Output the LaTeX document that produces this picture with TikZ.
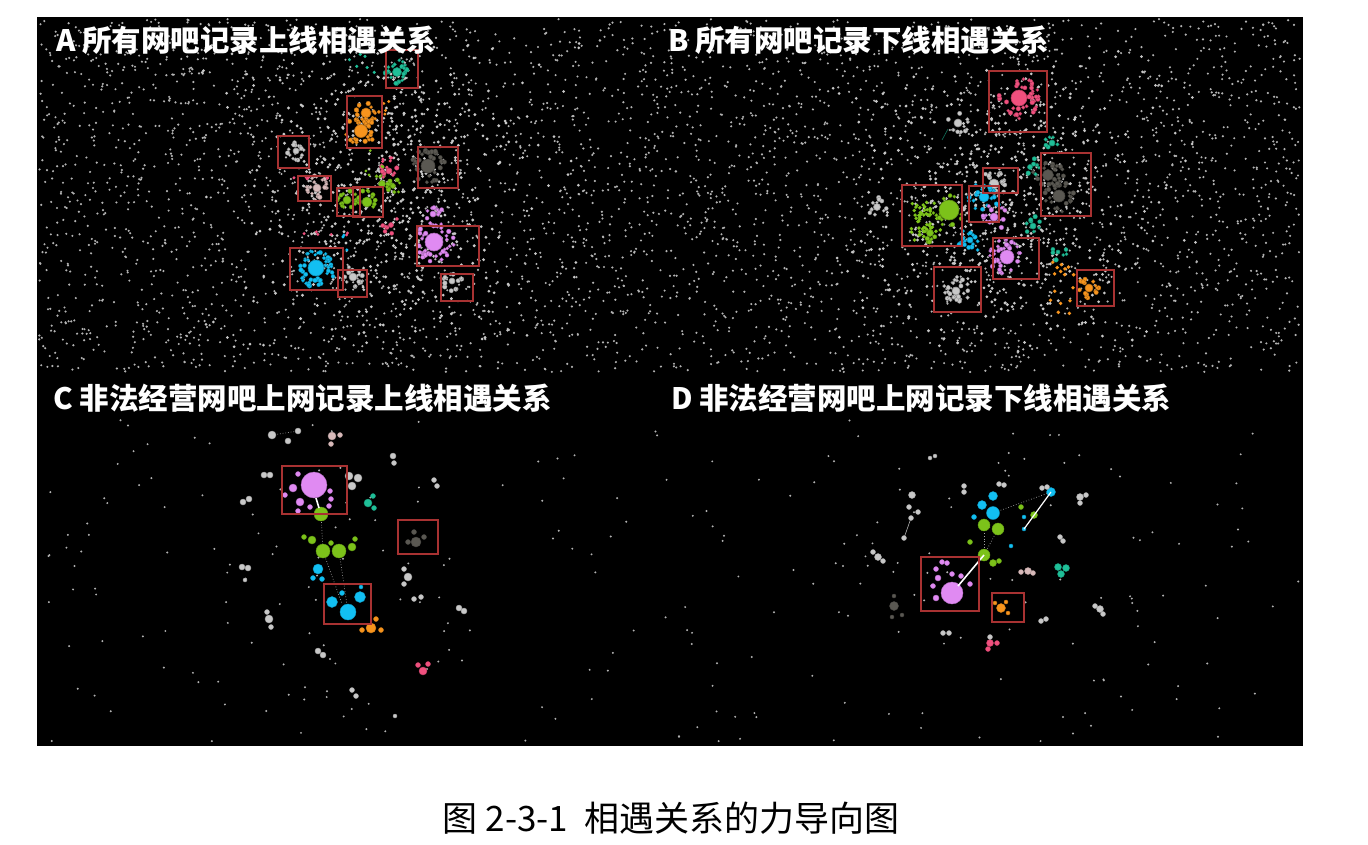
\documentclass[tikz,border=0pt]{standalone}
\usepackage{fontspec}
\newfontfamily\cjk{Noto Sans CJK SC}
\definecolor{boxred}{HTML}{A83232}
\definecolor{cteal}{HTML}{1FBF98}
\definecolor{corange}{HTML}{F7941D}
\definecolor{clgrey}{HTML}{C8C8C8}
\definecolor{cdgrey}{HTML}{5A5852}
\definecolor{cpgrey}{HTML}{D8BABA}
\definecolor{cgreen}{HTML}{7CC21A}
\definecolor{cviolet}{HTML}{E08AF2}
\definecolor{ccyan}{HTML}{12BFF2}
\definecolor{cpink}{HTML}{F0507E}
\definecolor{cdot}{HTML}{B2B2B2}
\tikzset{
  redbox/.style={draw=boxred, line width=1.3pt},
  paneltitle/.style={text=white, anchor=west, inner sep=0pt, font=\cjk\bfseries\fontsize{29.5}{32}\selectfont},
  captiontext/.style={text=black, inner sep=0pt, font=\cjk\fontsize{35}{40}\selectfont},
  linkdot/.style={draw=gray!70, dotted, line width=0.7pt},
  linkwhite/.style={draw=white, line width=1.6pt},
}
\newcommand\clusterhub[6]{%
  \foreach \k in {1,...,#5}{%
    \pgfmathsetmacro\aa{360*rnd}%
    \pgfmathsetmacro\dd{#3+2+#6*rnd}%
    \pgfmathsetmacro\px{#1+\dd*cos(\aa)}%
    \pgfmathsetmacro\py{#2+\dd*sin(\aa)}%
    \pgfmathsetmacro\rr{1.6+0.8*rnd}%
    \fill[#4, draw=#4!70!black, line width=0.3pt] (\px,\py) circle[radius=\rr pt];
  }%
  \fill[#4, draw=#4!75!black, line width=0.6pt] (#1,#2) circle[radius=#3pt];
}
\newcommand\scatterdots[7]{% n x0 y0 w h radius colour
  \foreach \k in {1,...,#1}{%
    \pgfmathsetmacro\px{#2+#4*rnd}%
    \pgfmathsetmacro\py{#3+#5*rnd}%
    \fill[#7] (\px,\py) circle[radius=#6pt];
  }%
}
\newcommand\centerdots[7]{% n cx cy sx sy radius colour
  \foreach \k in {1,...,#1}{%
    \pgfmathsetmacro\px{#2+#4*(rand+rand)/2}%
    \pgfmathsetmacro\py{#3+#5*(rand+rand)/2}%
    \fill[#7] (\px,\py) circle[radius=#6pt];
  }%
}
\begin{document}
\begin{tikzpicture}[x=1pt,y=-1pt]
\pgfmathsetseed{2317}
\useasboundingbox (0,0) rectangle (1368,844);
\fill[white] (0,0) rectangle (1368,844);
\fill[black] (37,17) rectangle (1303,746);

% ---------- top panels background dots ----------
\scatterdots{4200}{39}{19}{1262}{353}{1.2}{cdot}
\centerdots{450}{385}{185}{130}{160}{1.6}{clgrey}
\centerdots{400}{1000}{205}{150}{150}{1.6}{clgrey}
\scatterdots{120}{200}{40}{380}{310}{1.5}{clgrey}
\scatterdots{120}{830}{50}{380}{300}{1.5}{clgrey}

% ---------- bottom panels sparse dots ----------
\scatterdots{130}{40}{420}{630}{325}{1.1}{cdot}
\scatterdots{130}{670}{420}{630}{325}{1.1}{cdot}

% ---------- Panel A clusters ----------
\clusterhub{397}{72}{4.5}{cteal}{24}{6}
\scatterdots{6}{345}{48}{30}{28}{1.7}{cteal}
\clusterhub{366}{113}{5}{corange}{20}{6}
\clusterhub{361}{131}{6.5}{corange}{26}{7}
\scatterdots{4}{380}{96}{12}{40}{1.6}{corange}
\clusterhub{296}{151}{3}{clgrey}{14}{5}
\clusterhub{428}{166}{7}{cdgrey}{30}{8}
\clusterhub{317}{188}{4}{cpgrey}{20}{7}
\scatterdots{6}{293}{175}{35}{4}{1.7}{cpink}
\clusterhub{347}{200}{4}{cgreen}{12}{4}
\clusterhub{367}{202}{5}{cgreen}{14}{5}
\clusterhub{382}{184}{3.5}{cgreen}{6}{4}
\clusterhub{393}{186}{2.5}{cgreen}{5}{4}
\clusterhub{389}{171}{3}{cpink}{8}{5}
\clusterhub{391}{225}{2.5}{cpink}{6}{5}
\scatterdots{6}{380}{140}{20}{30}{1.7}{cpink}
\scatterdots{8}{360}{150}{40}{50}{1.6}{cgreen}
\clusterhub{434}{242}{9}{cviolet}{42}{9}
\clusterhub{433}{214}{3}{cviolet}{10}{5}
\clusterhub{316}{268}{8}{ccyan}{45}{9}
\scatterdots{5}{300}{235}{60}{20}{1.7}{ccyan}
\scatterdots{6}{300}{228}{50}{8}{1.6}{cpink}
\clusterhub{353}{277}{4}{clgrey}{16}{5}
\clusterhub{452}{281}{3}{clgrey}{14}{5}

\draw[redbox] (386,50) rectangle (418,88);
\draw[redbox] (347,96) rectangle (382,148);
\draw[redbox] (278,136) rectangle (309,168);
\draw[redbox] (418,147) rectangle (458,188);
\draw[redbox] (298,176) rectangle (331,201);
\draw[redbox] (337,188) rectangle (360,216);
\draw[redbox] (353,187) rectangle (383,217);
\draw[redbox] (417,226) rectangle (479,266);
\draw[redbox] (290,248) rectangle (343,290);
\draw[redbox] (338,270) rectangle (367,297);
\draw[redbox] (441,274) rectangle (473,301);

% ---------- Panel B clusters ----------
\clusterhub{1019}{98}{8}{cpink}{40}{11}
\clusterhub{1048}{175}{5.5}{cdgrey}{25}{8}
\clusterhub{1059}{196}{6}{cdgrey}{25}{8}
\clusterhub{994}{184}{5}{clgrey}{20}{7}
\clusterhub{930}{233}{3.5}{cgreen}{6}{4}
\centerdots{55}{925}{220}{22}{22}{1.9}{cgreen}
\clusterhub{949}{210}{10}{cgreen}{12}{4}
\clusterhub{984}{197}{5}{ccyan}{20}{9}
\clusterhub{994}{217}{4}{cviolet}{12}{7}
\clusterhub{970}{240}{3}{ccyan}{16}{9}
\clusterhub{1007}{257}{7}{cviolet}{32}{9}
\clusterhub{956}{291}{4}{clgrey}{25}{8}
\clusterhub{1089}{288}{4}{corange}{15}{5}
\scatterdots{16}{1050}{258}{25}{62}{1.9}{corange}
\clusterhub{958}{123}{4}{clgrey}{10}{5}
\clusterhub{877}{207}{3.5}{clgrey}{10}{5}
\clusterhub{1052}{143}{3}{cteal}{6}{4}
\clusterhub{1033}{226}{3}{cteal}{8}{5}
\clusterhub{1030}{167}{2.5}{cteal}{6}{5}
\clusterhub{1058}{252}{2}{cteal}{6}{5}
\draw[cteal!60!black, line width=0.6pt] (948,129) -- (942,140);

\draw[redbox] (989,71) rectangle (1047,132);
\draw[redbox] (1041,153) rectangle (1091,216);
\draw[redbox] (983,168) rectangle (1018,193);
\draw[redbox] (902,185) rectangle (962,246);
\draw[redbox] (969,186) rectangle (999,222);
\draw[redbox] (993,238) rectangle (1039,279);
\draw[redbox] (934,267) rectangle (981,312);
\draw[redbox] (1077,270) rectangle (1114,306);

% ---------- Panel C ----------
\draw[linkdot] (321,514) -- (323,551);
\draw[linkdot] (323,551) -- (342,604);
\draw[linkdot] (339,551) -- (348,612);
\draw[linkdot] (272,435) -- (298,431);
\foreach \x/\y/\r/\c in {
  321/514/7/cgreen, 323/551/7/cgreen, 339/551/7/cgreen, 312/540/4/cgreen,
  304/537/2.5/cgreen, 352/547/4/cgreen, 355/539/2.5/cgreen, 331/543/2.5/cgreen,
  318/569/5/ccyan, 313/578/2.5/ccyan, 322/579/2.5/ccyan,
  348/612/8/ccyan, 332/602/5.5/ccyan, 360/597/5.5/ccyan, 342/593/2.5/ccyan, 361/587/2/ccyan,
  371/628/5/corange, 362/630/2.5/corange, 376/619/2.5/corange, 381/630/2.5/corange,
  368/503/4/cteal, 373/496/2.5/cteal, 374/508/2.5/cteal,
  423/671/4/cpink, 418/665/2.5/cpink, 428/664/2.5/cpink,
  416/542/5/cdgrey, 408/542/2.5/cdgrey, 414/532/2.5/cdgrey, 424/537/2.5/cdgrey,
  314/485/13/cviolet, 293/488/4/cviolet, 285/495/2.5/cviolet, 298/474/2.5/cviolet,
  300/502/4/cviolet, 310/507/2.5/cviolet, 298/511/2.5/cviolet, 330/491/2.5/cviolet,
  331/499/2.5/cviolet, 329/506/2.5/cviolet,
  272/435/4/clgrey, 298/431/3/clgrey, 288/441/3/clgrey,
  332/436/4/cpgrey, 340/435/2.5/cpgrey, 331/444/2.5/cpgrey,
  349/476/4/clgrey, 358/478/4/clgrey, 352/486/4/clgrey,
  264/475/3/clgrey, 270/475/3/clgrey, 243/502/3/clgrey, 249/499/3/clgrey,
  393/456/3/clgrey, 394/463/2.5/clgrey, 434/480/2.5/clgrey, 437/486/2.5/clgrey,
  242/567/3/clgrey, 248/568/3/clgrey, 404/569/2.5/clgrey, 408/577/4/clgrey, 404/584/2.5/clgrey,
  414/599/2.5/clgrey, 421/597/2.5/clgrey, 459/608/3/clgrey, 464/611/3/clgrey,
  267/612/2.5/clgrey, 269/619/4/clgrey, 271/627/2.5/clgrey, 318/651/3/clgrey, 323/655/3/clgrey,
  352/690/2.5/clgrey, 356/696/2.5/clgrey, 245/580/2/clgrey, 395/716/2/clgrey}{%
  \fill[\c, draw=\c!80!black, line width=0.4pt] (\x,\y) circle[radius=\r pt];}
\draw[linkwhite] (316,498) -- (319,508);
\draw[redbox] (282,466) rectangle (347,514);
\draw[redbox] (398,520) rectangle (438,554);
\draw[redbox] (324,584) rectangle (371,624);

% ---------- Panel D ----------
\draw[linkdot] (993,513) -- (1051,492);
\draw[linkdot] (984,525) -- (984,555);
\draw[linkdot] (998,529) -- (984,555);
\draw[gray!60, line width=0.6pt] (911,518) -- (904,538);
\foreach \x/\y/\r/\c in {
  993/496/4.5/ccyan, 982/505/4.5/ccyan, 993/513/6.5/ccyan, 974/517/2.5/ccyan, 1051/492/4.5/ccyan,
  1024/517/2/ccyan, 1024/529/2/ccyan, 1011/546/2/ccyan,
  984/525/6/cgreen, 998/529/6/cgreen, 984/555/6/cgreen, 993/563/3.5/cgreen, 999/561/2.5/cgreen,
  970/542/2.5/cgreen, 1034/515/3.5/cgreen, 1021/507/2.5/cgreen,
  952/593/11/cviolet, 942/562/2.5/cviolet, 947/563/2.5/cviolet, 936/569/2.5/cviolet, 938/578/3/cviolet,
  933/586/2.5/cviolet, 936/598/3/cviolet, 952/574/2.5/cviolet, 961/576/2.5/cviolet, 970/584/2.5/cviolet,
  1001/608/4.5/corange, 995/603/2/corange, 1006/602/2/corange, 1008/613/2/corange,
  894/606/4.5/cdgrey, 894/596/2/cdgrey, 892/617/2/cdgrey, 902/615/2/cdgrey,
  1058/567/3.5/cteal, 1066/568/3.5/cteal, 1061/574/3.5/cteal,
  1028/571/3.5/cpgrey, 1021/572/2.5/cpgrey, 1033/573/2.5/cpgrey,
  990/643/3.5/cpink, 997/643/2.5/cpink, 988/649/2.5/cpink, 990/637/2.5/clgrey,
  912/495/3.5/clgrey, 909/507/2.5/clgrey, 918/512/2.5/clgrey, 911/518/2.5/clgrey, 904/538/2.5/clgrey,
  878/557/3.5/clgrey, 873/552/2.5/clgrey, 883/561/2.5/clgrey,
  1080/497/3.5/clgrey, 1086/495/2.5/clgrey, 1080/503/2.5/clgrey,
  1060/537/2.5/clgrey, 1063/541/2.5/clgrey,
  1095/606/2.5/clgrey, 1100/609/3.5/clgrey, 1103/614/2.5/clgrey,
  1041/621/2.5/clgrey, 1046/619/2.5/clgrey, 943/633/2.5/clgrey, 949/633/2.5/clgrey,
  964/486/2.5/clgrey, 964/492/2.5/clgrey, 999/484/2.5/clgrey, 1004/485/2.5/clgrey,
  1042/488/2.5/clgrey, 1047/487/2.5/clgrey, 935/456/2/clgrey, 930/458/2/clgrey}{%
  \fill[\c, draw=\c!80!black, line width=0.4pt] (\x,\y) circle[radius=\r pt];}
\draw[linkwhite] (958,586) -- (984,555);
\draw[draw=white, line width=1.2pt] (1024,529) -- (1051,492);
\draw[redbox] (921,557) rectangle (979,611);
\draw[redbox] (992,593) rectangle (1024,622);

% ---------- titles ----------
\node[paneltitle] (ta) at (56,40) {A 所有网吧记录上线相遇关系};
\node[paneltitle] (tb) at (668,40) {B 所有网吧记录下线相遇关系};
\node[paneltitle] (tc) at (53,398) {C 非法经营网吧上网记录上线相遇关系};
\node[paneltitle] (td) at (671,398) {D 非法经营网吧上网记录下线相遇关系};
\node[captiontext] (cap) at (671,818) {图 2-3-1\ \ 相遇关系的力导向图};
\end{tikzpicture}
\end{document}
